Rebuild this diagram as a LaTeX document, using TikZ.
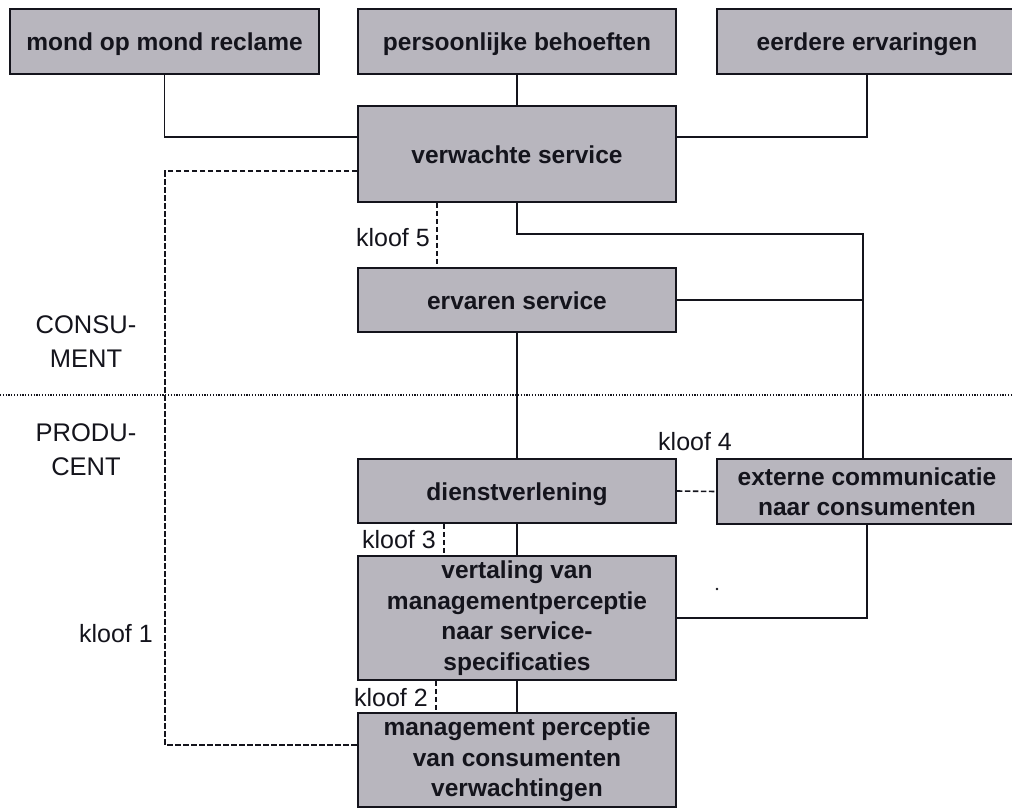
\documentclass[tikz,border=0pt]{standalone}
\usepackage{fontspec}
\setmainfont{Liberation Sans}
\definecolor{boxgray}{RGB}{184,182,190}
\definecolor{inkc}{RGB}{20,20,28}
\begin{document}
\begin{tikzpicture}[x=1pt,y=-1pt,
  box/.style={draw=inkc, fill=boxgray, line width=1.8pt, inner sep=0pt, align=center,
    font=\fontsize{24.5}{30.5}\selectfont\bfseries, text=inkc},
  oneline/.style={text height=22pt, text depth=4pt},
  wire/.style={draw=inkc, line width=1.8pt},
  gapline/.style={draw=inkc, line width=1.6pt, dash pattern=on 5.5pt off 2.5pt},
  divider/.style={draw=inkc, line width=1.4pt, dash pattern=on 1.2pt off 1.6pt},
  gaplabel/.style={inner sep=0pt, font=\fontsize{25}{30}\selectfont, text=inkc},
  sidelabel/.style={inner sep=0pt, align=center, font=\fontsize{25.5}{33.5}\selectfont, text=inkc}
]
\useasboundingbox (0,0) rectangle (1012,809);

% boxes
\node[box, oneline, minimum width=309pt, minimum height=65pt] (mond) at (164.5,41.5) {mond op mond reclame};
\node[box, oneline, minimum width=318pt, minimum height=65pt] (pers) at (517,41.5) {persoonlijke behoeften};
\node[box, oneline, minimum width=300pt, minimum height=65pt] (eerd) at (867,41.5) {eerdere ervaringen};
\node[box, oneline, minimum width=318pt, minimum height=96pt] (verw) at (517,154) {verwachte service};
\node[box, oneline, minimum width=318pt, minimum height=64pt] (erv) at (517,300) {ervaren service};
\node[box, oneline, minimum width=318pt, minimum height=64pt] (dienst) at (517,491) {dienstverlening};
\node[box, minimum width=300pt, minimum height=65pt] (ext) at (867,491.5) {externe communicatie\\naar consumenten};
\node[box, minimum width=318pt, minimum height=124pt] (vert) at (517,618) {vertaling van\\managementperceptie\\naar service-\\specificaties};
\node[box, minimum width=318pt, minimum height=94pt] (mgmt) at (517,760) {management perceptie\\van consumenten\\verwachtingen};

% helper coordinates
\coordinate (cr1) at (863,234);
\coordinate (k1) at (165,745);
\coordinate (dl) at (0,395);
\coordinate (dr) at (1012,395);

% solid connectors
\draw[wire] (mond.south) |- ([yshift=-32pt]verw.north west);
\draw[wire] (pers.south) -- (verw.north);
\draw[wire] (eerd.south) |- ([yshift=-32pt]verw.north east);
\draw[wire] (verw.south) |- (cr1) -- (cr1 |- ext.north);
\draw[wire] (erv.east) -- (erv.east -| cr1);
\draw[wire] (erv.south) -- (dienst.north);
\draw[wire] (dienst.south) -- (vert.north);
\draw[wire] (ext.south) |- (vert.east);
\draw[wire] (vert.south) -- (mgmt.north);

% gap (kloof) lines
\draw[gapline] ([yshift=-66pt]verw.north west) -| (k1) -- (k1 -| mgmt.west);
\draw[gapline] ([xshift=-80pt]verw.south) -- ([xshift=-80pt]erv.north);
\draw[gapline] (dienst.east) -- (ext.west);
\draw[gapline] ([xshift=-73pt]dienst.south) -- ([xshift=-73pt]vert.north);
\draw[gapline] ([xshift=-81pt]vert.south) -- ([xshift=-81pt]mgmt.north);

% divider
\draw[divider] (dl) -- (dr);

% labels
\node[gaplabel, anchor=base east] (l5) at (430,246) {kloof 5};
\node[gaplabel, anchor=base west] (l4) at (658,450) {kloof 4};
\node[gaplabel, anchor=base east] (l3) at (436,548) {kloof 3};
\node[gaplabel, anchor=base east] (l2) at (428,706) {kloof 2};
\node[gaplabel, anchor=base east] (l1) at (153,642) {kloof 1};
\node[sidelabel, anchor=base] (cons) at (86,367) {CONSU-\\MENT};
\node[sidelabel, anchor=base] (prod) at (86,475) {PRODU-\\CENT};

% speck
\fill[inkc] (717,589) circle (1.3pt);
\end{tikzpicture}
\end{document}
